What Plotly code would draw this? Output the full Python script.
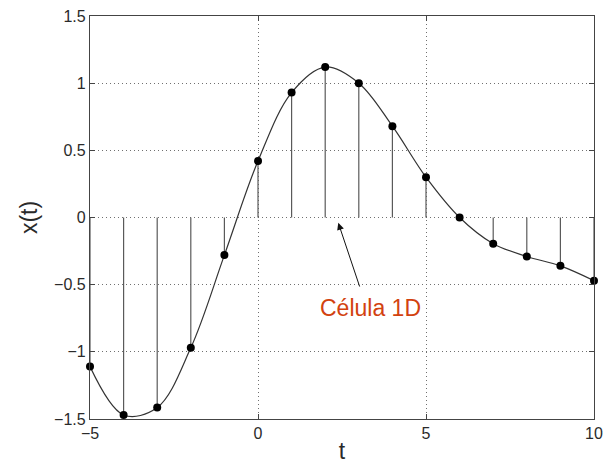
import plotly.graph_objects as go

t = [-5, -4, -3, -2, -1, 0, 1, 2, 3, 4, 5, 6, 7, 8, 9, 10]
x_t = [-1.11, -1.47, -1.415, -0.97, -0.28, 0.42, 0.93, 1.12, 1.0, 0.68, 0.30, 0.0,
       -0.195, -0.29, -0.36, -0.47]

x_ticks = [-5, 0, 5, 10]
y_ticks = [-1.5, -1, -0.5, 0, 0.5, 1, 1.5]
y_ticktext = ["\u22121.5", "\u22121", "\u22120.5", "0", "0.5", "1", "1.5"]
x_ticktext = ["\u22125", "0", "5", "10"]

label_text = "Célula 1D"
label_pos = (3.34, -0.675)
arrow_tail = (3.04, -0.525)
arrow_head = (2.39, -0.04)

FONT = "Liberation Sans, Arial, Helvetica, sans-serif"

# stems
sx, sy = [], []
for ti, vi in zip(t, x_t):
    sx += [ti, ti, None]
    sy += [0, vi, None]

fig = go.Figure()
fig.add_trace(go.Scatter(x=sx, y=sy, mode="lines",
                         line=dict(color="#5a5a5a", width=1.2),
                         hoverinfo="skip", showlegend=False))
fig.add_trace(go.Scatter(x=t, y=x_t, mode="lines", line_shape="spline",
                         line=dict(color="#333333", width=1.2, smoothing=1.0),
                         showlegend=False))
fig.add_trace(go.Scatter(x=t, y=x_t, mode="markers",
                         marker=dict(color="black", size=8),
                         showlegend=False, cliponaxis=False))

axis_common = dict(
    showline=True, linecolor="#444444", linewidth=1.2, mirror="ticks",
    ticks="inside", ticklen=5, tickcolor="#444444",
    showgrid=True, gridcolor="#707070", griddash="1px,3px", gridwidth=1,
    zeroline=False, automargin=False, ticklabeloverflow="allow",
    tickfont=dict(family=FONT, size=16, color="#2a2a2a"),
)

fig.update_xaxes(range=[-5, 10], tickvals=x_ticks, ticktext=x_ticktext,
                 title=dict(text="t", font=dict(family=FONT, size=23, color="#2a2a2a"),
                            standoff=2),
                 **axis_common)
fig.update_yaxes(range=[-1.5, 1.5], tickvals=y_ticks, ticktext=y_ticktext,
                 title=dict(text="x(t)", font=dict(family=FONT, size=23, color="#2a2a2a"),
                            standoff=10),
                 **axis_common)

fig.add_annotation(x=arrow_head[0], y=arrow_head[1], ax=arrow_tail[0], ay=arrow_tail[1],
                   axref="x", ayref="y", xref="x", yref="y", text="",
                   showarrow=True, arrowhead=2, arrowsize=1.4, arrowwidth=1,
                   arrowcolor="#111111")
fig.add_annotation(x=label_pos[0], y=label_pos[1], xref="x", yref="y",
                   text=label_text, showarrow=False,
                   font=dict(family=FONT, size=23, color="#d2420f"))

# page has an 8px body margin, so the figure is sized to fit inside the window
fig.update_layout(
    width=595, height=456,
    margin=dict(l=82, r=9, t=8, b=45),
    paper_bgcolor="white", plot_bgcolor="white",
)

fig.write_html("out.html")
